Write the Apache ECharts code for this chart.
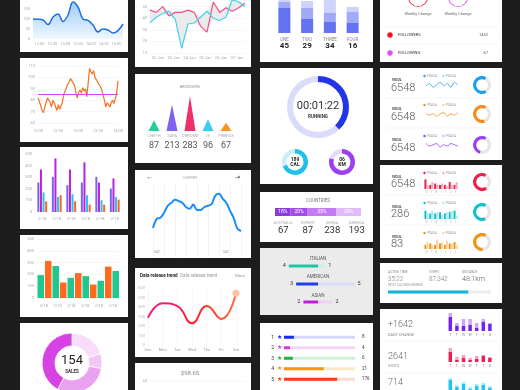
<!DOCTYPE html>
<html><head><meta charset="utf-8">
<script src="https://cdn.jsdelivr.net/npm/echarts@6/dist/echarts.min.js"></script>
<style>html,body{margin:0;padding:0;background:#1d1d1d;}#c{width:520px;height:390px;}</style>
</head><body><div id="c"></div>
<script>
// ================= DATA =================
// A: blue area chart
const aTimes = ['12:00','12:30','13:00','13:30','14:00','14:30','15:00'];
const aValues = [100,99,95,72,110,125,88,120,185,160,100,93,70,35,50,45,30,42,75];
// B: orange line with reference
const bTimes = ['12:00','12:30','13:00','13:30','14:00'];
const bValues = [82,79,75,71,69,74,78,82,80,78,74,80,78,74,71,76,72,71,78,85,88,91,94,96,99,97,98,93,86,82,87,89,86,91,88,90,83,95,108,105,103,106,100,98,96,94,92,89,90,80,74,78,76,74,78,80,77,78,86,97];
const bRef = 85;
// C: grouped bars
const cDates = ['2/18','2/18','2/18','2/18','2/18','2/18'];
const cS1 = [254,303,231,254,303,202];
const cS2 = [367,462,367,428,254,289];
const cS3 = [168,130,153,145,101,130];
const cS4 = [92,145,92,64,64,107];
// D: alternating bars
const dDates = ['2/18','2/18','2/18','2/18','2/18','2/18'];
const dGreen = [194,271,171,186,146,229];
const dOrange = [314,131,211,114,266];
// E: donut
const eShares = [20,8,30,42];
const eTotal = '154', eLabel = 'SALES';
// F: two lines
const fDays = ['02 Jan','03 Jan','04 Jan','05 Jan','06 Jan','07 Jan'];
const fPink = [47,45,50,42,45,45,47,45,33,28,54,45,49,46,49,53];
const fCyan = [36,41,44,46,39,14,35,36,41,46,40,38,41,56,54,50];
// G: browsers
const gNames = ['CHETH','SAFA','CHROME','IE','FIREFOX'];
const gVals = [87,213,283,96,67];
// H: blue line
const hVals = [28,43,45,53,65,70,75,73,70,63,60,67,58,58,63,65,68,82,85,77,70,57,45,27,23];
const hDays = ['SAT','SAT'];
// I: release trend
const iDays = ['Sun','Mon','Tue','Wed','Thu','Fri','Sat'];
const iVals = [285,440,410,230,410,275,545];
// K: stacked bars
const kNames = ['ONE','TWO','THREE','FOUR'];
const kTotals = [45,29,34,16];
const kDark = [25,14,11,10];
const kMid = [6,11,9,11];
const kLight = [7,7,13,5];
// L: timer
const lTime = '00:01:22';
const lRun = 38;
const lCal = ['189','CAL',70];
const lKm = ['06','KM',80];
// M: countries
const mShares = [18,20,33,29];
const mCountries = ['AUSTRALIA','EUROPE','AFRICA','AMERICA'];
const mVals = [67,87,238,193];
// N: cuisines
const nCuisines = ['ITALIAN','AMERICAN','ASIAN'];
const nLeft = [4,3,2];
const nRight = [1,5,2];
// O: ranking
const oRanks = ['1','2','3','4','5'];
const oPct = [14,8.5,12.5,56,75];
const oTrack = [100,100,100,100,100];
const oShown = ['8','4','6','21','176'];
// P: followers
const pFollowers = '1452', pFollowing = '67';
// Q: sparkline rows
const qNums = ['6548','6548','6548'];
const qSpark = [[4,6,3,5,7,4,6,3,7,5],[5,4,5,3,5,6,3,5,4,6],[6,4,5,6,3,5,4,6,5,4]];
const qPct = [67,64,55];
// R: bar rows
const rNums = ['6548','286','83'];
const rDays = ['M','T','W','T','F','S','S'];
const rDark = [[7,3,4,3,3,5,3],[6,4,4,5,4,5,6],[3,4,3,4,3,4,5]];
const rLight = [[3,5,3,4,2,3,5],[4,6,5,3,5,6,2],[5,3,7,5,6,4,3]];
const rPct = [68,66,60];
// S: activity
const sLabels = ['ACTIVE TIME','STEPS','DISTANCE'];
const sValues = ['35:22','87,342','48.1km'];
const sProgress = 78;
// T: daily stats
const tNums = ['+1642','2641','714'];
const tLabels = ['DAILY CHANGE','VISITS','LIKES'];
const tDays = ['T','T','W','W','T','T','O'];
const tDark = [[14,5,5,6,3,9,7],[10,2,4,2,3,6,4],[12,5,8,3,6,7,4]];
const tLight = [[4,3,7,6,5,3,1],[4,3,3,2,3,1,1],[2,2,2,2,2,2,2]];

// ================= BUILD =================
const FF = 'Roboto, "Liberation Sans", Arial, sans-serif';
const grid=[], xAxis=[], yAxis=[], series=[], graphic=[];
const hide = () => ({axisLine:{show:false}, axisTick:{show:false}, axisLabel:{show:false}, splitLine:{show:false}});
function addGrid(box, xa, ya){
  const gi = grid.length;
  grid.push(Object.assign({containLabel:false, outerBoundsMode:'none'}, box));
  const xi = xAxis.length; xAxis.push(Object.assign(hide(), {position:'bottom'}, xa, {gridIndex:gi}));
  const yi = yAxis.length; yAxis.push(Object.assign(hide(), {position:'left'}, ya, {gridIndex:gi}));
  return {gi, xi, yi};
}
function addX(gi, xa){ const xi = xAxis.length; xAxis.push(Object.assign(hide(), {position:'bottom'}, xa, {gridIndex:gi})); return xi; }
const lbl = (o) => Object.assign({show:true, fontSize:4, color:'#aaa', fontFamily:FF, margin:3}, o);
function T(x,y,text,o){ o=o||{}; graphic.push({type:'text', x, y, z:100, silent:true, style:{text:String(text), fill:o.c||'#555', fontSize:o.s||5, fontFamily:FF, fontWeight:o.w||'normal', align:o.a||'left', textAlign:o.a||'left', verticalAlign:'middle', textVerticalAlign:'middle'}}); }
function R(x,y,w,h,fill){ graphic.push({type:'rect', z:-5, silent:true, shape:{x,y,width:w,height:h}, style:{fill}}); }
function C(cx,cy,r,fill){ graphic.push({type:'circle', z:100, silent:true, shape:{cx,cy,r}, style:{fill}}); }
function L(x1,y1,x2,y2,stroke){ graphic.push({type:'line', z:1, silent:true, shape:{x1,y1,x2,y2}, style:{stroke, lineWidth:0.6}}); }
function pie(center, radius, items, o){ o=o||{};
  series.push({type:'pie', center, radius, startAngle:o.start==null?90:o.start, clockwise:o.cw!==false, silent:true,
    label:{show:false}, labelLine:{show:false}, emphasis:{disabled:true}, z:o.z||2,
    itemStyle:o.border?{borderColor:'#fff', borderWidth:o.border}:{borderWidth:0},
    data: items.map(it=>({value:it[0], itemStyle:{color:it[1]}}))});
}
const S = (g, o) => Object.assign({xAxisIndex:g.xi, yAxisIndex:g.yi}, o);

// cards
R(20,-5,108,57,'#fff'); R(20,58,108,84,'#fff'); R(20,147,108,82,'#fff'); R(20,235,108,82,'#fff'); R(20,323,108,72,'#fff');
R(135,-5,116,72,'#fff'); R(135,74,116,89,'#fff'); R(135,170,116,88,'#fff'); R(135,268,116,89,'#fff'); R(135,363,116,32,'#fff');
R(260,-5,113,67,'#fff'); R(260,68,113,116,'#fff'); R(260,192,113,50,'#fff'); R(260,248,113,67,'#ebebeb'); R(260,323,113,72,'#fff');
R(380,-5,122,67,'#fff'); R(380,68,122,92,'#fff'); R(380,165,122,93,'#fff'); R(380,263,122,40,'#fff'); R(380,309,122,85,'#fff');

let g;
// ---- A ----
g = addGrid({left:33, top:-11, width:90, height:50},
  {type:'category', boundaryGap:false, data:aValues.map((v,i)=>i)},
  {type:'value', min:0, max:250, interval:50, axisLabel:lbl({})});
addX(g.gi, {type:'category', data:aTimes, axisLabel:lbl({margin:3, interval:0})});
series.push(S(g,{type:'line', data:aValues, smooth:0.4, symbol:'none', lineStyle:{color:'#1d6fe6', width:1.5},
  areaStyle:{color:new echarts.graphic.LinearGradient(0,0,0,1,[{offset:0,color:'#74b6f6'},{offset:1,color:'#e9f4fe'}])}}));

// ---- B ----
g = addGrid({left:38, top:66, width:80, height:57},
  {type:'category', boundaryGap:false, data:bValues.map((v,i)=>i)},
  {type:'value', min:60, max:110, interval:10, axisLabel:lbl({}), splitLine:{show:true, lineStyle:{color:'#f0f0f0', width:0.6}}});
addX(g.gi, {type:'category', boundaryGap:false, data:bTimes, axisLabel:lbl({margin:6, interval:0})});
series.push(S(g,{type:'line', data:bValues, symbol:'none', lineStyle:{color:'#f47320', width:1.2},
  markLine:{silent:true, symbol:['none','none'], label:{show:false}, lineStyle:{color:'#cf45ee', width:1, type:'solid'}, data:[{yAxis:bRef}]}}));

// ---- C ----
const cColors = ['#7b63ef','#b523dd','#22c6ee','#ff6322'];
g = addGrid({left:35, top:154, width:87, height:58},
  {type:'category', data:cDates, axisLabel:lbl({margin:5, interval:0})},
  {type:'value', min:0, max:500, interval:100, axisLabel:lbl({})});
[cS1,cS2,cS3,cS4].forEach((d,k)=>series.push(S(g,{type:'bar', data:d, barWidth:2, barGap:'30%', itemStyle:{color:cColors[k]}})));

// ---- D ----
const dG=[], dO=[];
for (let i=0;i<dGreen.length+dOrange.length;i++){ if(i%2===0){dG.push(dGreen[i/2]); dO.push('-');} else {dG.push('-'); dO.push(dOrange[(i-1)/2]);} }
g = addGrid({left:37, top:239, width:82.5, height:59},
  {type:'category', data:dG.map((v,i)=>i)},
  {type:'value', min:0, max:500, interval:100, axisLabel:lbl({}), splitLine:{show:true, lineStyle:{color:'#f6f0dc', width:0.6}}});
addX(g.gi, {type:'category', data:dDates, axisLabel:lbl({margin:6, interval:0})});
series.push(S(g,{type:'bar', data:dG, barWidth:6.5, barGap:'-100%', itemStyle:{color:'#1fc98e'}}));
series.push(S(g,{type:'bar', data:dO, barWidth:6.5, barGap:'-100%', itemStyle:{color:'#ff6a1f'}}));

// ---- E ----
const eColors = ['#f8dcfa','#f1c6f5','#e8a2ef','#d642e4'];
pie([72,363],[17,30], eShares.map((v,i)=>[v,eColors[i]]), {border:0.8});
T(72,361,eTotal,{s:13,c:'#222',a:'center'}); T(72,372,eLabel,{s:4.5,c:'#333',a:'center',w:'bold'});

// ---- F ----
g = addGrid({left:150, top:-5, width:95, height:58},
  {type:'category', boundaryGap:false, data:fPink.map((v,i)=>i)},
  {type:'value', min:10, max:60, interval:10, axisLabel:lbl({}), splitLine:{show:true, lineStyle:{color:'#eeeeee', width:0.6}}});
addX(g.gi, {type:'category', data:fDays, axisLabel:lbl({margin:3, interval:0})});
const fLo = fPink.map((v,i)=>Math.min(v,fCyan[i])), fGap = fPink.map((v,i)=>Math.abs(v-fCyan[i]));
series.push(S(g,{type:'line', stack:'fband', data:fLo, symbol:'none', lineStyle:{width:0, opacity:0}}));
series.push(S(g,{type:'line', stack:'fband', data:fGap, symbol:'none', lineStyle:{width:0, opacity:0}, areaStyle:{color:'#ebebeb', opacity:1}}));
series.push(S(g,{type:'line', data:fPink, symbol:'none', lineStyle:{color:'#f2508c', width:1.2}}));
series.push(S(g,{type:'line', data:fCyan, symbol:'none', lineStyle:{color:'#40d4ea', width:1.2}}));

// ---- G ----
const gColors = ['#22cf9c','#7f62ef','#f0306b','#36cff0','#f99324'];
T(190,87,'BROWSERS',{s:4,c:'#999',a:'center'});
g = addGrid({left:145, top:91, width:90, height:40},
  {type:'category', data:gNames, axisLabel:{show:true, interval:0, margin:1,
    formatter:(v,i)=>'{n|'+v+'}\n{v|'+gVals[i]+'}',
    rich:{n:{fontSize:4,color:'#aaa',lineHeight:8,fontFamily:FF}, v:{fontSize:9,color:'#555',lineHeight:12,fontFamily:FF}}}},
  {type:'value', min:0, max:325});
series.push(S(g,{type:'pictorialBar', symbol:'triangle', symbolSize:[11,'100%'], data:gVals.map((v,i)=>({value:v, itemStyle:{color:gColors[i]}}))}));

// ---- H ----
T(150,177,'←',{s:7,c:'#555',a:'center'}); T(190,178,'CHERRY',{s:4,c:'#aaa',a:'center'}); T(237,177,'⇥',{s:6,c:'#555',a:'center'});
g = addGrid({left:153, top:183, width:88, height:75},
  {type:'category', boundaryGap:false, data:hVals.map((v,i)=>i), splitLine:{show:true, interval:2, lineStyle:{color:'#ececec', width:0.6}}},
  {type:'value', min:-22, max:103});
series.push(S(g,{type:'line', data:hVals, smooth:0.35, symbol:'none', lineStyle:{color:'#1b8bfb', width:2}}));
T(157,252,hDays[0],{s:3.5,c:'#999',a:'center'}); T(226,252,hDays[1],{s:3.5,c:'#999',a:'center'});

// ---- I ----
T(140,276,'Data release trend',{s:4.6,c:'#222',w:'bold'}); T(180,276,'Data release trend',{s:4.6,c:'#999'}); T(245,276,'More',{s:4.3,c:'#999',a:'right'});
g = addGrid({left:148, top:288, width:88, height:57},
  {type:'category', boundaryGap:false, data:iDays, axisLabel:lbl({margin:3, interval:0, color:'#999'}), splitLine:{show:true, lineStyle:{color:'#f0f0f0', width:0.6}}},
  {type:'value', min:0, max:600, interval:100, axisLabel:lbl({color:'#bbb'})});
series.push(S(g,{type:'line', data:iVals, smooth:0.5, symbol:'circle', showSymbol:true,
  symbolSize:(v,p)=>p.dataIndex===iVals.length-1?7:0, itemStyle:{color:'#ffc2a6'},
  lineStyle:{width:2, color:new echarts.graphic.LinearGradient(0,0,1,0,[{offset:0,color:'#f01e8e'},{offset:0.5,color:'#ff1f2e'},{offset:1,color:'#ff6e3c'}])}}));

// ---- J ----
T(190,373,'$98.65',{s:6,c:'#888',a:'center'}); T(145,381,'60',{s:4,c:'#aaa',a:'center'}); L(150,381,245,381,'#eeeeee');

// ---- K ----
const kColors = ['#6272f0','#a0aaf6','#cdd3fb'];
g = addGrid({left:273, top:-5, width:91, height:38},
  {type:'category', data:kNames, axisLabel:{show:true, interval:0, margin:4,
    formatter:(v,i)=>'{n|'+v+'}\n{v|'+kTotals[i]+'}',
    rich:{n:{fontSize:4.5,color:'#888',lineHeight:5,fontFamily:FF}, v:{fontSize:8,fontWeight:'bold',color:'#222',lineHeight:8,fontFamily:FF}}}},
  {type:'value', min:0, max:38});
[kDark,kMid,kLight].forEach((d,k)=>series.push(S(g,{type:'bar', stack:'kst', data:d, barWidth:12, itemStyle:{color:kColors[k]}})));

// ---- L ----
pie([318,107],[25,31],[[100,'#d9dcfa']]);
pie([318,107],[25,31],[[lRun,'#2236e8'],[100-lRun,'rgba(0,0,0,0)']],{z:3});
T(318,106,lTime,{s:11,c:'#333',a:'center'}); T(318,117,'RUNNING',{s:4.5,c:'#333',a:'center',w:'bold'});
pie([295,162],[8.5,13],[[lCal[2],'#1ec1ea'],[100-lCal[2],'#c9eff9']]);
pie([342,162],[8.5,13],[[lKm[2],'#9b3ff0'],[100-lKm[2],'#e8d9fc']]);
T(295,159.5,lCal[0],{s:5,c:'#222',a:'center',w:'bold'}); T(295,165,lCal[1],{s:5,c:'#222',a:'center',w:'bold'});
T(342,159.5,lKm[0],{s:5,c:'#222',a:'center',w:'bold'}); T(342,165,lKm[1],{s:5,c:'#222',a:'center',w:'bold'});

// ---- M ----
const mColors = ['#8b3ae0','#a24deb','#c27bf2','#e3baf9'];
T(318,201,'COUNTRIES',{s:4.5,c:'#777',a:'center'});
g = addGrid({left:275, top:208, width:86, height:8}, {type:'value', min:0, max:100}, {type:'category', data:['share']});
mShares.forEach((v,k)=>series.push(S(g,{type:'bar', stack:'mst', data:[v], barWidth:8, itemStyle:{color:mColors[k]},
  label:{show:true, position:'inside', formatter:'{c}%', fontSize:5, color:'#fff', fontFamily:FF}})));
addGrid({left:271, top:217, width:98, height:1},
  {type:'category', data:mCountries, axisLabel:{show:true, interval:0, margin:2.5,
    formatter:(v,i)=>'{n|'+v+'}\n{v|'+mVals[i]+'}',
    rich:{n:{fontSize:3.6,color:'#aaa',lineHeight:5,fontFamily:FF}, v:{fontSize:9.5,color:'#333',lineHeight:10,fontFamily:FF}}}},
  {type:'value', min:0, max:1});

// ---- N ----
const nDark = ['#1fc6a0','#1f3ff0','#c01fd6'], nLight = ['#cdeee5','#d8dcf8','#f1d0f5'];
[259,277,296].forEach((y,i)=>T(318,y,nCuisines[i],{s:4.5,c:'#555',a:'center'}));
g = addGrid({left:281.5, top:257, width:73, height:54}, {type:'value', min:-5, max:5}, {type:'category', inverse:true, data:nCuisines});
series.push(S(g,{type:'bar', data:nLeft.map((v,i)=>({value:-v, itemStyle:{color:nDark[i]}})), barWidth:3, barGap:'-100%',
  label:{show:true, position:'left', distance:3, formatter:p=>Math.abs(p.value), fontSize:5.5, color:'#333', fontFamily:FF}}));
series.push(S(g,{type:'bar', data:nRight.map((v,i)=>({value:v, itemStyle:{color:nLight[i]}})), barWidth:3, barGap:'-100%',
  label:{show:true, position:'right', distance:3, formatter:p=>p.value, fontSize:5.5, color:'#333', fontFamily:FF}}));

// ---- O ----
const oDark = ['#1a2ef0','#d33be0','#1cb83c','#f39a12','#ff3a14'], oLight = ['#d4d8fd','#f6d4f9','#d0f0d6','#fde9c8','#ffd9cf'];
const oRich = {r:{fontSize:5,color:'#333',fontFamily:FF}};
oDark.forEach((c,i)=>{ oRich['s'+i] = {fontSize:5.5, color:c}; });
g = addGrid({left:284, top:332, width:71, height:52.5}, {type:'value', min:0, max:100},
  {type:'category', inverse:true, data:oRanks, axisLabel:{show:true, interval:0, margin:2, formatter:(v,i)=>'{r|'+v+'} {s'+i+'|★}', rich:oRich}});
series.push(S(g,{type:'bar', data:oTrack.map((v,i)=>({value:v, itemStyle:{color:oLight[i]}})), barWidth:3, barGap:'-100%',
  label:{show:true, position:'right', distance:7, formatter:p=>oShown[p.dataIndex], fontSize:4.5, color:'#333', fontFamily:FF}}));
series.push(S(g,{type:'bar', data:oPct.map((v,i)=>({value:v, itemStyle:{color:oDark[i]}})), barWidth:3, barGap:'-100%'}));

// ---- P ----
pie([418,-3],[9.2,10],[[100,'#f5142c']]); pie([458,-3],[9.2,10],[[100,'#d83ee8']]);
T(418,14,'Weekly Change',{s:4,c:'#666',a:'center'}); T(458,14,'Weekly Change',{s:4,c:'#666',a:'center'});
L(385,27,497,27,'#eeeeee'); L(385,44,497,44,'#eeeeee');
C(390,35,2.7,'#f5102a'); T(398,35,'FOLLOWERS',{s:4,c:'#333'}); T(488,35,pFollowers,{s:4,c:'#555',a:'right'});
C(390,53,2.7,'#e04ef0'); T(398,53,'FOLLOWING',{s:4,c:'#333'}); T(488,53,pFollowing,{s:4,c:'#555',a:'right'});

// ---- Q ----
const qColors = ['#1ea0f0','#f58a1f','#9a3ff0'], qLight = ['#9fd6f8','#fbc99b','#d5b1fa'];
[68,97,128].forEach((b,i)=>{
  T(392,b+12,'VIDUL',{s:3.4,c:'#444',w:'bold'});
  T(391,b+20.5,qNums[i],{s:11,c:'#555',w:300});
  C(424.5,b+8,1.2,qColors[i]); T(427,b+8,'PDASA',{s:3.2,c:'#999'});
  C(443.5,b+8,1.2,qLight[i]); T(446,b+8,'PDASA',{s:3.2,c:'#999'});
  const gg = addGrid({left:426, top:b+13, width:32, height:10}, {type:'category', boundaryGap:false, data:qSpark[i].map((v,k)=>k)}, {type:'value', min:0, max:8});
  series.push(S(gg,{type:'line', data:qSpark[i], symbol:'none', smooth:0.3, lineStyle:{color:qColors[i], width:0.8}}));
  pie([482,b+17],[5.8,9],[[qPct[i],qColors[i]],[100-qPct[i],'#e6e6e6']],{start:60, cw:false});
});
L(386,98,497,98,'#eeeeee'); L(386,128,497,128,'#eeeeee');

// ---- R ----
const rColors = ['#f0204a','#12c0c8','#f29212'], rLightC = ['#f9a9bd','#a6ecef','#fbd29c'];
[165,195,225].forEach((b,i)=>{
  T(392,b+12,'VIDUL',{s:3.4,c:'#444',w:'bold'});
  T(391,b+19,rNums[i],{s:11,c:'#555',w:300});
  C(424.5,b+8,1.2,rColors[i]); T(427,b+8,'PDASA',{s:3.2,c:'#999'});
  C(443.5,b+8,1.2,rLightC[i]); T(446,b+8,'PDASA',{s:3.2,c:'#999'});
  const gg = addGrid({left:424, top:b+13, width:34, height:11},
    {type:'category', data:rDays, axisLabel:{show:true, interval:0, margin:1.5, fontSize:2.6, color:'#bbb', fontFamily:FF}},
    {type:'value', min:0, max:8});
  series.push(S(gg,{type:'bar', data:rDark[i], barWidth:2, barGap:'0%', itemStyle:{color:rColors[i]}}));
  series.push(S(gg,{type:'bar', data:rLight[i], barWidth:2, barGap:'0%', itemStyle:{color:rLightC[i]}}));
  pie([482,b+17],[5.8,9],[[rPct[i],rColors[i]],[100-rPct[i],'#e6e6e6']],{start:60, cw:false});
});
L(386,195,497,195,'#eeeeee'); L(386,225,497,225,'#eeeeee');

// ---- S ----
[388,429,462].forEach((x,i)=>{ T(x,272,sLabels[i],{s:3.3,c:'#888'}); T(x,279.5,sValues[i],{s:i===2?7:6.3,c:i===2?'#555':'#777',w:300}); });
T(388,285.5,'MOST CALORIES BURNED',{s:3,c:'#999'});
g = addGrid({left:388, top:290.5, width:103, height:3}, {type:'value', min:0, max:100}, {type:'category', data:['p']});
series.push(S(g,{type:'bar', data:[100], barWidth:3, barGap:'-100%', itemStyle:{color:'#ececec'}}));
series.push(S(g,{type:'bar', data:[sProgress], barWidth:3, barGap:'-100%', itemStyle:{color:'#13b5d8'}}));

// ---- T ----
const tColors = ['#7420f0','#ee1d55','#18c8f0'], tLightC = ['#cda5fa','#f8a3be','#a5ebf9'];
[[325,335,331],[357,366.5,362],[383,392,392]].forEach((r,i)=>{
  T(388,r[0],tNums[i],{s:9,c:'#666',w:300});
  T(388,r[1],tLabels[i],{s:3.8,c:'#888'});
  const gg = addGrid({left:447, top:r[2]-20, width:46.2, height:20},
    {type:'category', data:tDays, axisLabel:{show:true, interval:0, margin:2, fontSize:3.5, color:'#888', fontFamily:FF}},
    {type:'value', min:0, max:20});
  series.push(S(gg,{type:'bar', stack:'t'+i, data:tDark[i], barWidth:3.5, itemStyle:{color:tColors[i]}}));
  series.push(S(gg,{type:'bar', stack:'t'+i, data:tLight[i], barWidth:3.5, itemStyle:{color:tLightC[i]}}));
});
L(385,341,497,341,'#eeeeee'); L(385,373,497,373,'#eeeeee');

const chart = echarts.init(document.getElementById('c'), null, {renderer:'canvas'});
chart.setOption({
  backgroundColor:'#1d1d1d', animation:false, textStyle:{fontFamily:FF},
  grid, xAxis, yAxis, series, graphic:{elements:graphic}
});
</script></body></html>
